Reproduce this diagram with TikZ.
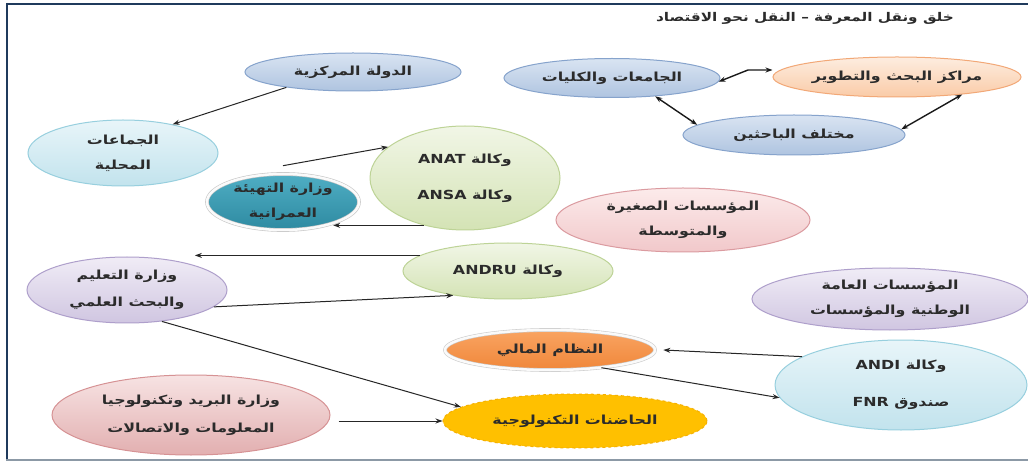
\documentclass[tikz,border=0pt]{standalone}
\usepackage{fontspec}
\usepackage{graphicx}
\usetikzlibrary{shapes.geometric,arrows.meta,calc}
\TeXXeTstate=1
\newfontfamily\arabicfont[Script=Arabic]{DejaVu Sans}
\newfontfamily\latfont{DejaVu Sans}
\newcommand{\arw}[1]{\scalebox{1.27}[1]{\arabicfont\bfseries\beginR #1\endR}}
\newcommand{\latw}[1]{\beginL{\latfont\bfseries #1}\endL}
\definecolor{navy}{HTML}{1F3A5C}
\definecolor{framegray}{HTML}{8C99A6}
\definecolor{txt}{HTML}{2B2B2B}
\definecolor{bgT}{HTML}{D9E4F2}\definecolor{bgB}{HTML}{AFC4E0}\definecolor{bgD}{HTML}{86A3CC}
\definecolor{cyT}{HTML}{E8F5F9}\definecolor{cyB}{HTML}{C2E3ED}\definecolor{cyD}{HTML}{97CFDE}
\definecolor{tlT}{HTML}{4FAEC4}\definecolor{tlB}{HTML}{2E8AA1}
\definecolor{grT}{HTML}{F1F6E6}\definecolor{grB}{HTML}{D4E3B5}\definecolor{grD}{HTML}{BDD396}
\definecolor{peT}{HTML}{FDEDE0}\definecolor{peB}{HTML}{FACBA7}\definecolor{peD}{HTML}{F2A877}
\definecolor{piT}{HTML}{FCEBEB}\definecolor{piB}{HTML}{F1C8CA}\definecolor{piD}{HTML}{DB9BA0}
\definecolor{lvT}{HTML}{F0ECF6}\definecolor{lvB}{HTML}{D0C6E1}\definecolor{lvD}{HTML}{AE9FCB}
\definecolor{orT}{HTML}{F9A462}\definecolor{orB}{HTML}{F0873A}
\definecolor{roT}{HTML}{F7E3E3}\definecolor{roB}{HTML}{E2AFB0}\definecolor{roD}{HTML}{D69294}
\definecolor{yel}{HTML}{FFC000}\definecolor{yelD}{HTML}{F5B000}
\begin{document}
\begin{tikzpicture}[x=1pt,y=-1pt,
  >={Stealth[length=7pt,width=5pt]},
  oval/.style={ellipse, inner xsep=0pt, inner ysep=-3pt, align=center, line width=1pt, text=txt,
    font=\fontsize{12.5}{25}\selectfont},
  bluegray/.style={oval, draw=bgD, top color=bgT, bottom color=bgB},
  cyanc/.style={oval, draw=cyD, top color=cyT, bottom color=cyB},
  tealc/.style={oval, draw=gray!45, double=white!96!gray, double distance=2.5pt, line width=0.6pt, top color=tlT, bottom color=tlB},
  greenc/.style={oval, draw=grD, top color=grT, bottom color=grB},
  peachc/.style={oval, draw=peD, top color=peT, bottom color=peB},
  pinkc/.style={oval, draw=piD, top color=piT, bottom color=piB},
  lavc/.style={oval, draw=lvD, top color=lvT, bottom color=lvB},
  orangec/.style={oval, draw=gray!40, double=white!96!gray, double distance=2.5pt, line width=0.6pt, top color=orT, bottom color=orB},
  rosec/.style={oval, draw=roD, top color=roT, bottom color=roB},
  yellowc/.style={oval, draw=yelD, dashed, fill=yel},
  conn/.style={->, line width=1pt, black!85},
  bidir/.style={<->, line width=1.4pt, black!90}]
\useasboundingbox (0,0) rectangle (1028,462);
\fill[white] (0,0) rectangle (1028,462);
% frame
\draw[navy, line width=2.5pt] (6,4) -- (1028,4);
\draw[navy, line width=2.5pt] (7,3) -- (7,461);
\draw[framegray, line width=2pt] (6,460) -- (1028,460);
% title
\node[font=\fontsize{12}{14}\selectfont, text=txt] (title) at (805,18) {\arw{خلق ونقل المعرفة – النقل نحو الاقتصاد}};
% nodes
\node[bluegray, minimum width=216pt, minimum height=38pt] (dawla) at (353,72) {\arw{الدولة المركزية}};
\node[cyanc, minimum width=190pt, minimum height=66pt] (jama) at (123,153) {\arw{الجماعات}\\\arw{المحلية}};
\node[tealc, minimum width=152pt, minimum height=56pt] (tahyia) at (283,202) {\arw{وزارة التهيئة}\\\arw{العمرانية}};
\node[greenc, minimum width=190pt, minimum height=104pt, font=\fontsize{12.5}{36}\selectfont] (anat) at (465,178) {\arw{وكالة \latw{ANAT}}\\\arw{وكالة \latw{ANSA}}};
\node[bluegray, minimum width=216pt, minimum height=39pt] (jamiat) at (612,78) {\arw{الجامعات والكليات}};
\node[peachc, minimum width=248pt, minimum height=40pt] (marakiz) at (897,77) {\arw{مراكز البحث والتطوير}};
\node[bluegray, minimum width=222pt, minimum height=40pt] (mukhtalif) at (794,135) {\arw{مختلف الباحثين}};
\node[pinkc, minimum width=254pt, minimum height=64pt] (saghira) at (683,220) {\arw{المؤسسات الصغيرة}\\\arw{والمتوسطة}};
\node[greenc, minimum width=210pt, minimum height=56pt] (andru) at (508,271) {\arw{وكالة \latw{ANDRU}}};
\node[lavc, minimum width=200pt, minimum height=66pt, font=\fontsize{12.5}{27}\selectfont] (taalim) at (127,290) {\arw{وزارة التعليم}\\\arw{والبحث العلمي}};
\node[lavc, minimum width=276pt, minimum height=62pt] (amma) at (890,299) {\arw{المؤسسات العامة}\\\arw{الوطنية والمؤسسات}};
\node[orangec, minimum width=210pt, minimum height=40pt] (nizam) at (550,350) {\arw{النظام المالي}};
\node[cyanc, minimum width=252pt, minimum height=90pt, font=\fontsize{12.5}{37}\selectfont] (andi) at (901,385) {\arw{وكالة \latw{ANDI}}\\\arw{صندوق \latw{FNR}}};
\node[rosec, minimum width=278pt, minimum height=80pt, font=\fontsize{12.5}{28}\selectfont] (barid) at (191,415) {\arw{وزارة البريد وتكنولوجيا}\\\arw{المعلومات والاتصالات}};
\node[yellowc, minimum width=264pt, minimum height=54pt] (hadinat) at (575,421) {\arw{الحاضنات التكنولوجية}};
% connectors
\draw[conn] (dawla.193) -- (jama.30);
\draw[conn] ([yshift=8pt]tahyia.north) -- (anat.158);
\draw[conn] (anat.-131) -- (anat.-131 -| tahyia.-23);
\coordinate (k1) at (748,70);
\draw[bidir] (jamiat.-2) -- (k1) -- (k1 -| marakiz.west);
\draw[bidir] (jamiat.-23) -- (mukhtalif.174);
\draw[bidir] (mukhtalif.3) -- (marakiz.-15);
\draw[conn] (andru.170) -- (andru.170 -| taalim.20);
\draw[conn] (taalim.-11) -- (andru.-156);
\draw[conn] (taalim.-42) -- (hadinat.173);
\draw[conn] ([xshift=8pt]barid.east |- hadinat.west) -- (hadinat.west);
\draw[conn] (andi.164) -- ([xshift=8pt]nizam.east);
\draw[conn] (nizam.-19) -- (andi.186);
\end{tikzpicture}
\end{document}
